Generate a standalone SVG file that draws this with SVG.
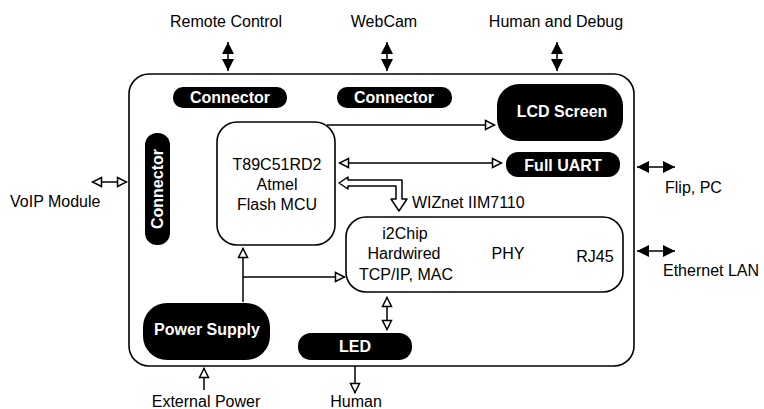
<svg xmlns="http://www.w3.org/2000/svg" width="764" height="409" viewBox="0 0 764 409">
<style>
  .lbl { font-family: "Liberation Sans", Arial, sans-serif; font-size: 16px; fill: #000; }
  .blk { fill: #000; }
  .wt { font-family: "Liberation Sans", Arial, sans-serif; font-size: 16px; font-weight: bold; fill: #fff; text-anchor: middle; }
  .box { fill: #fff; stroke: #000; stroke-width: 1.6; }
  .ln { fill: none; stroke: #000; stroke-width: 1.5; }
  .mid { text-anchor: middle; }
</style>
<defs>
  <marker id="h" viewBox="0 0 12 12" refX="11" refY="6" markerWidth="12" markerHeight="12" markerUnits="userSpaceOnUse" orient="auto-start-reverse">
    <path d="M1.5,1.5 L10.5,6 L1.5,10.5 Z" fill="#fff" stroke="#000" stroke-width="1.5"/>
  </marker>
  <marker id="f" viewBox="0 0 12 12" refX="12" refY="6" markerWidth="12" markerHeight="13" markerUnits="userSpaceOnUse" orient="auto-start-reverse">
    <path d="M0,0 L12,6 L0,12 Z" fill="#000"/>
  </marker>
</defs>

<g id="board">
  <rect x="129" y="74" width="505" height="292" rx="20" class="box" stroke-width="2"/>
</g>

<g id="connectors">
  <line x1="228" y1="42" x2="228" y2="71" class="ln" stroke-width="2" marker-start="url(#f)" marker-end="url(#f)"/>
  <line x1="387" y1="42" x2="387" y2="71" class="ln" stroke-width="2" marker-start="url(#f)" marker-end="url(#f)"/>
  <line x1="557" y1="42" x2="557" y2="71" class="ln" stroke-width="2" marker-start="url(#f)" marker-end="url(#f)"/>
  <line x1="92" y1="182" x2="127" y2="182" class="ln" marker-start="url(#h)" marker-end="url(#h)"/>
  <line x1="637" y1="167" x2="675" y2="167" class="ln" stroke-width="2" marker-start="url(#f)" marker-end="url(#f)"/>
  <line x1="637" y1="251" x2="675" y2="251" class="ln" stroke-width="2" marker-start="url(#f)" marker-end="url(#f)"/>
  <line x1="327" y1="125" x2="495" y2="125" class="ln" marker-end="url(#h)"/>
  <line x1="339" y1="163" x2="502" y2="163" class="ln" marker-start="url(#h)" marker-end="url(#h)"/>
  <path d="M339,183 L348,177 L348,180 L402,180 L402,199 L407,199 L399,211 L391,199 L396,199 L396,186 L348,186 L348,189 Z" fill="#fff" stroke="#000" stroke-width="1.5" stroke-linejoin="round"/>
  <line x1="243" y1="302" x2="243" y2="248" class="ln" marker-end="url(#h)"/>
  <line x1="243" y1="277" x2="345" y2="277" class="ln" marker-end="url(#h)"/>
  <line x1="387" y1="297" x2="387" y2="330" class="ln" marker-start="url(#h)" marker-end="url(#h)"/>
  <line x1="204" y1="390" x2="204" y2="368" class="ln" marker-end="url(#h)"/>
  <line x1="355" y1="366" x2="355" y2="393" class="ln" marker-end="url(#h)"/>
</g>

<g id="conn-remote">
  <rect x="173" y="87" width="114" height="21" rx="10" class="blk"/>
  <text x="230" y="103" class="wt">Connector</text>
</g>
<g id="conn-webcam">
  <rect x="337" y="87" width="115" height="21" rx="10" class="blk"/>
  <text x="394" y="103" class="wt">Connector</text>
</g>
<g id="lcd">
  <rect x="497" y="84" width="126" height="57" rx="22" class="blk"/>
  <text x="562" y="117" class="wt">LCD Screen</text>
</g>
<g id="uart">
  <rect x="506" y="152" width="114" height="25" rx="12" class="blk"/>
  <text x="563" y="171" class="wt">Full UART</text>
</g>
<g id="conn-voip">
  <rect x="145" y="133" width="25" height="112" rx="12" class="blk"/>
  <text transform="translate(163,189) rotate(-90)" x="0" y="0" class="wt">Connector</text>
</g>
<g id="mcu">
  <rect x="217" y="122" width="118" height="123" rx="20" class="box"/>
  <text x="277" y="170" class="lbl mid">T89C51RD2</text>
  <text x="277" y="190" class="lbl mid">Atmel</text>
  <text x="277" y="210" class="lbl mid">Flash MCU</text>
</g>
<g id="wiznet-label">
  <text x="412" y="208" class="lbl">WIZnet IIM7110</text>
</g>
<g id="wiznet">
  <rect x="346" y="217" width="277" height="75" rx="20" class="box"/>
  <text x="405" y="239" class="lbl mid">i2Chip</text>
  <text x="404" y="259" class="lbl mid">Hardwired</text>
  <text x="406" y="280" class="lbl mid">TCP/IP, MAC</text>
  <text x="508" y="259" class="lbl mid">PHY</text>
  <text x="595" y="262" class="lbl mid">RJ45</text>
</g>
<g id="power">
  <rect x="143" y="303" width="127" height="57" rx="24" class="blk"/>
  <text x="207" y="335" class="wt">Power Supply</text>
</g>
<g id="led">
  <rect x="298" y="333" width="114" height="27" rx="13" class="blk"/>
  <text x="355" y="352" class="wt">LED</text>
</g>

<g id="external-labels">
  <text x="226" y="27" class="lbl mid">Remote Control</text>
  <text x="384" y="27" class="lbl mid">WebCam</text>
  <text x="556" y="27" class="lbl mid">Human and Debug</text>
  <text x="10" y="207" class="lbl">VoIP Module</text>
  <text x="665" y="193" class="lbl">Flip, PC</text>
  <text x="663" y="276" class="lbl">Ethernet LAN</text>
  <text x="206" y="407" class="lbl mid">External Power</text>
  <text x="356" y="407" class="lbl mid">Human</text>
</g>
</svg>
